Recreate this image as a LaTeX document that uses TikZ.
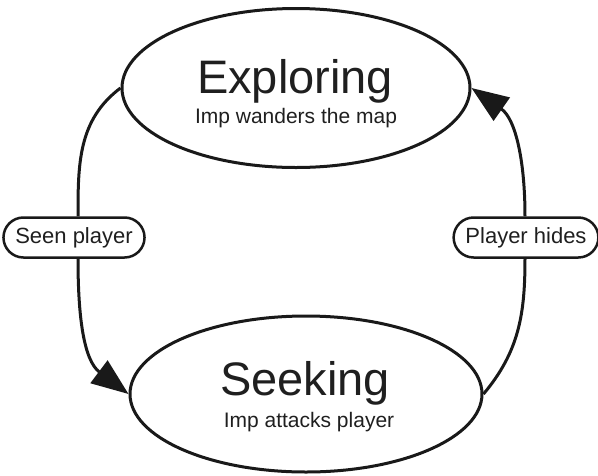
\documentclass[tikz,border=0pt]{standalone}
\usepackage{fontspec}
\setmainfont{Liberation Sans}
\usetikzlibrary{arrows.meta,shapes.geometric,shapes.misc}
\begin{document}
\begin{tikzpicture}[x=1pt,y=1pt,
  state/.style={draw=black!90,line width=3pt,ellipse,inner sep=0pt},
  title/.style={anchor=base,font=\fontsize{47}{50}\selectfont,text=black!88},
  subtitle/.style={anchor=base,font=\fontsize{21}{24}\selectfont,text=black!88},
  trans/.style={draw=black!90,fill=white,line width=2.5pt,rounded rectangle,minimum height=40pt,inner xsep=9pt,inner ysep=0pt,font=\fontsize{22}{24}\selectfont,text=black!88},
  conn/.style={draw=black!90,line width=3pt},
  arr/.style={conn,-{Triangle[length=37pt,width=28pt]}}]
\useasboundingbox (0,0) rectangle (598,-475);
\node[state,minimum width=348pt,minimum height=159pt] (top) at (296,-88) {};
\node[state,minimum width=352pt,minimum height=156pt] (bot) at (306,-394) {};
\node[title] (explt) at (295,-93) {Exploring};
\node[subtitle] (explst) at (296,-123) {Imp wanders the map};
\node[title] (seekt) at (305,-395) {Seeking};
\node[subtitle] (seekst) at (309,-427) {Imp attacks player};
\node[trans] (seen) at (74,-237.5) {Seen player};
\node[trans] (hides) at (526,-237.5) {Player hides};
\draw[conn] (top.west) to[out=217,in=90] ([xshift=4pt]seen.north);
\draw[arr] ([xshift=4pt]seen.south) to[out=-90,in=143] (bot.west);
\draw[conn] (bot.east) to[out=50,in=-90] ([xshift=-1pt]hides.south);
\draw[arr] ([xshift=-1pt]hides.north) to[out=90,in=-35] (top.east);
\end{tikzpicture}
\end{document}
